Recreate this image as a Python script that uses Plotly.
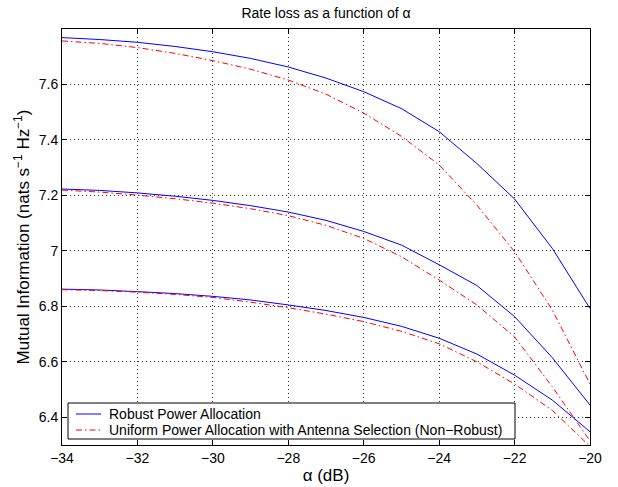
import plotly.graph_objects as go

alpha_db = [-34, -33, -32, -31, -30, -29, -28, -27, -26, -25, -24, -23, -22, -21, -20]

robust_high = [7.769, 7.762, 7.752, 7.737, 7.718, 7.694, 7.663, 7.623, 7.574, 7.513, 7.430, 7.315, 7.187, 7.009, 6.792]
uniform_high = [7.757, 7.748, 7.733, 7.712, 7.686, 7.655, 7.616, 7.565, 7.497, 7.413, 7.310, 7.165, 6.997, 6.787, 6.520]

robust_mid = [7.223, 7.218, 7.209, 7.197, 7.182, 7.163, 7.140, 7.110, 7.070, 7.021, 6.950, 6.875, 6.763, 6.615, 6.444]
uniform_mid = [7.219, 7.212, 7.201, 7.188, 7.172, 7.152, 7.127, 7.092, 7.045, 6.979, 6.895, 6.805, 6.690, 6.510, 6.315]

robust_low = [6.862, 6.859, 6.853, 6.846, 6.836, 6.823, 6.805, 6.785, 6.760, 6.728, 6.685, 6.628, 6.552, 6.462, 6.348]
uniform_low = [6.860, 6.857, 6.851, 6.843, 6.832, 6.815, 6.795, 6.772, 6.745, 6.710, 6.665, 6.600, 6.520, 6.425, 6.295]

x_ticks = [-34, -32, -30, -28, -26, -24, -22, -20]
x_tick_labels = ["\u221234", "\u221232", "\u221230", "\u221228", "\u221226", "\u221224", "\u221222", "\u221220"]
y_ticks = [6.4, 6.6, 6.8, 7.0, 7.2, 7.4, 7.6]
y_tick_labels = ["6.4", "6.6", "6.8", "7", "7.2", "7.4", "7.6"]

robust_name = "Robust Power Allocation"
uniform_name = "Uniform Power Allocation with Antenna Selection (Non\u2212Robust)"

BLUE = "#0000ff"
RED = "#ff0000"
RED_DASH = "6px,3px,1.5px,3px"
FONT = "Liberation Sans, Arial, Helvetica, sans-serif"
FS = 14
FS_LABEL = 17

W, H = 618, 487
ML, MR, MT, MB = 62, 28, 29, 42
PW, PH = W - ML - MR, H - MT - MB


def px_x(px):
    return (px - ML) / PW


def px_y(py):
    return (H - MB - py) / PH


fig = go.Figure()

series = [
    (robust_high, robust_name, BLUE, "solid"),
    (uniform_high, uniform_name, RED, RED_DASH),
    (robust_mid, robust_name, BLUE, "solid"),
    (uniform_mid, uniform_name, RED, RED_DASH),
    (robust_low, robust_name, BLUE, "solid"),
    (uniform_low, uniform_name, RED, RED_DASH),
]
for ys, name, color, dash in series:
    fig.add_trace(go.Scatter(
        x=alpha_db, y=ys, mode="lines", name=name, showlegend=False,
        line=dict(color=color, width=1, dash=dash),
    ))

axis_common = dict(
    showline=True, linecolor="black", linewidth=1, mirror="ticks",
    ticks="inside", ticklen=5, tickcolor="black", tickwidth=1,
    showgrid=True, gridcolor="#333333", griddash="1px,3px", gridwidth=1,
    zeroline=False, tickfont=dict(family=FONT, size=FS, color="black"),
)

# legend box (MATLAB style), drawn in plot-area paper coordinates
legend_entries = [(robust_name, BLUE, "solid", 414), (uniform_name, RED, RED_DASH, 430)]
shapes = [dict(type="rect", xref="paper", yref="paper",
               x0=px_x(68), x1=px_x(515), y0=px_y(439), y1=px_y(403),
               line=dict(color="black", width=1), fillcolor="white", layer="above")]
annotations = []
for name, color, dash, py in legend_entries:
    shapes.append(dict(type="line", xref="paper", yref="paper",
                       x0=px_x(76), x1=px_x(101), y0=px_y(py), y1=px_y(py),
                       line=dict(color=color, width=1, dash=dash), layer="above"))
    annotations.append(dict(text=name, xref="paper", yref="paper", x=px_x(107), y=px_y(py),
                            xanchor="left", yanchor="middle", showarrow=False,
                            font=dict(family=FONT, size=FS, color="black")))

fig.update_layout(
    width=W, height=H,
    margin=dict(l=ML, r=MR, t=MT, b=MB, autoexpand=False),
    paper_bgcolor="white", plot_bgcolor="white",
    font=dict(family=FONT, size=FS, color="black"),
    showlegend=False,
    title=dict(text="Rate loss as a function of \u03b1", x=326 / W, xanchor="center",
               y=1 - 13 / H, yanchor="middle", font=dict(family=FONT, size=FS, color="black")),
    xaxis=dict(range=[-34, -20], tickvals=x_ticks, ticktext=x_tick_labels,
               title=dict(text="\u03b1 (dB)", standoff=4, font=dict(family=FONT, size=FS_LABEL)),
               **axis_common),
    yaxis=dict(range=[6.3, 7.8], tickvals=y_ticks, ticktext=y_tick_labels,
               title=dict(text="Mutual Information (nats s<sup>\u22121</sup> Hz<sup>\u22121</sup>)",
                          standoff=4, font=dict(family=FONT, size=FS_LABEL)),
               **axis_common),
    shapes=shapes,
    annotations=annotations,
)

fig.write_html("out.html", config={"displayModeBar": False},
               post_script="document.body.style.margin='0';")
